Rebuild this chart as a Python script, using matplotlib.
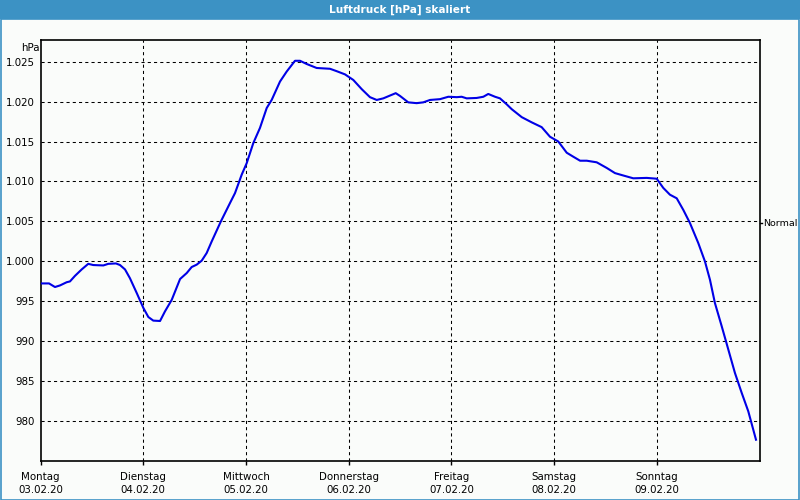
import matplotlib.pyplot as plt
from matplotlib.patches import Rectangle
from matplotlib.ticker import FuncFormatter

# --- data (days since Monday 00:00, hPa) ---
days = [0.0, 0.082, 0.140, 0.189, 0.254, 0.286, 0.335, 0.400, 0.464, 0.513,
        0.611, 0.659, 0.734, 0.773, 0.822, 0.870, 0.936, 1.000, 1.049, 1.097,
        1.163, 1.211, 1.277, 1.358, 1.423, 1.471, 1.520, 1.569, 1.617, 1.666,
        1.755, 1.844, 1.893, 1.958, 2.007, 2.071, 2.136, 2.202, 2.250, 2.331,
        2.396, 2.477, 2.526, 2.591, 2.688, 2.818, 2.883, 2.964, 3.045, 3.127,
        3.207, 3.273, 3.337, 3.402, 3.458, 3.500, 3.580, 3.662, 3.726, 3.792,
        3.889, 3.970, 4.052, 4.100, 4.149, 4.246, 4.311, 4.359, 4.425, 4.473,
        4.539, 4.587, 4.685, 4.782, 4.879, 4.960, 5.041, 5.123, 5.187, 5.253,
        5.318, 5.415, 5.512, 5.593, 5.674, 5.771, 5.902, 5.999, 6.063, 6.128,
        6.194, 6.258, 6.323, 6.404, 6.469, 6.518, 6.566, 6.632, 6.696, 6.761,
        6.827, 6.891, 6.966]
pressure = [997.25, 997.25, 996.8, 997.0, 997.4, 997.5, 998.2, 999.0, 999.7, 999.55,
            999.5, 999.7, 999.75, 999.55, 999.0, 997.9, 996.05, 994.2, 993.05, 992.6,
            992.55, 993.75, 995.2, 997.8, 998.55, 999.3, 999.6, 1000.1, 1001.05, 1002.5,
            1005.0, 1007.3, 1008.55, 1010.85, 1012.3, 1014.8, 1016.7, 1019.2, 1020.2, 1022.5,
            1023.75, 1025.1, 1025.1, 1024.7, 1024.2, 1024.1, 1023.8, 1023.4, 1022.7, 1021.55,
            1020.55, 1020.2, 1020.4, 1020.75, 1021.05, 1020.7, 1019.9, 1019.8, 1019.9, 1020.2,
            1020.3, 1020.6, 1020.55, 1020.6, 1020.4, 1020.45, 1020.6, 1020.95, 1020.6, 1020.4,
            1019.65, 1019.05, 1018.05, 1017.4, 1016.8, 1015.6, 1015.0, 1013.6, 1013.1, 1012.6,
            1012.6, 1012.4, 1011.7, 1011.05, 1010.75, 1010.4, 1010.45, 1010.35, 1009.2, 1008.35,
            1007.9, 1006.45, 1004.8, 1002.3, 1000.0, 997.7, 994.8, 991.9, 989.0, 986.05,
            983.55, 981.25, 977.7]

day_names = ["Montag", "Dienstag", "Mittwoch", "Donnerstag", "Freitag", "Samstag", "Sonntag"]
day_dates = ["03.02.20", "04.02.20", "05.02.20", "06.02.20", "07.02.20", "08.02.20", "09.02.20"]
y_ticks = [980, 985, 990, 995, 1000, 1005, 1010, 1015, 1020, 1025]
normal_level = 1004.8

bg = "#fafcfa"
frame_blue = "#3c92c4"
fs = 7.4

fig = plt.figure(figsize=(8, 5), dpi=100, facecolor=bg)
plt.rcParams['font.family'] = ['DejaVu Sans']

# window title bar and border
fig.patches.append(Rectangle((0, 1 - 19 / 500), 1, 19 / 500, transform=fig.transFigure,
                             facecolor=frame_blue, edgecolor="none", zorder=0))
fig.patches.append(Rectangle((0.5 / 800, 0.5 / 500), 1 - 1.5 / 800, 1 - 19 / 500,
                             transform=fig.transFigure, facecolor="none",
                             edgecolor=frame_blue, linewidth=1.2, zorder=0))
fig.text(0.5, 1 - 10 / 500, "Luftdruck [hPa] skaliert", color="white", fontsize=7.6,
         fontweight="bold", ha="center", va="center")

ax = fig.add_axes([40.6 / 800, 39.5 / 500, (760 - 40.6) / 800, (460.5 - 40) / 500])
ax.set_facecolor(bg)

ax.plot(days, pressure, color="#0000e6", linewidth=1.5, zorder=3)

ax.set_xlim(0, 7.005)
ax.set_ylim(975.1, 1027.7)

# dashed grid
for y in y_ticks:
    ax.axhline(y, color="black", linewidth=0.75, linestyle=(0, (3, 3)), zorder=1)
for d in range(1, 7):
    ax.axvline(d, color="black", linewidth=0.75, linestyle=(0, (3, 3)), zorder=1)

for s in ax.spines.values():
    s.set_linewidth(1.2)
    s.set_color("black")

ax.set_yticks(y_ticks)
ax.yaxis.set_major_formatter(FuncFormatter(lambda v, p: f"{int(v):,}".replace(",", ".")))
ax.tick_params(axis="y", length=0, pad=4, labelsize=fs)

ax.set_xticks(range(7))
ax.set_xticklabels([f"{n}\n{d}" for n, d in zip(day_names, day_dates)], linespacing=1.45)
ax.tick_params(axis="x", length=3, width=1, pad=5, labelsize=fs)

ax.text(-0.006, 1027.7 - 0.35, "hPa", transform=ax.transData, ha="right", va="top", fontsize=fs)

# "Normal" marker on the right edge
ax.plot([7.005, 7.025], [normal_level, normal_level], color="black", linewidth=1,
        clip_on=False)
ax.text(7.035, normal_level, "Normal", ha="left", va="center", fontsize=6.8)

fig.savefig("out.png", dpi=100, facecolor=bg)
